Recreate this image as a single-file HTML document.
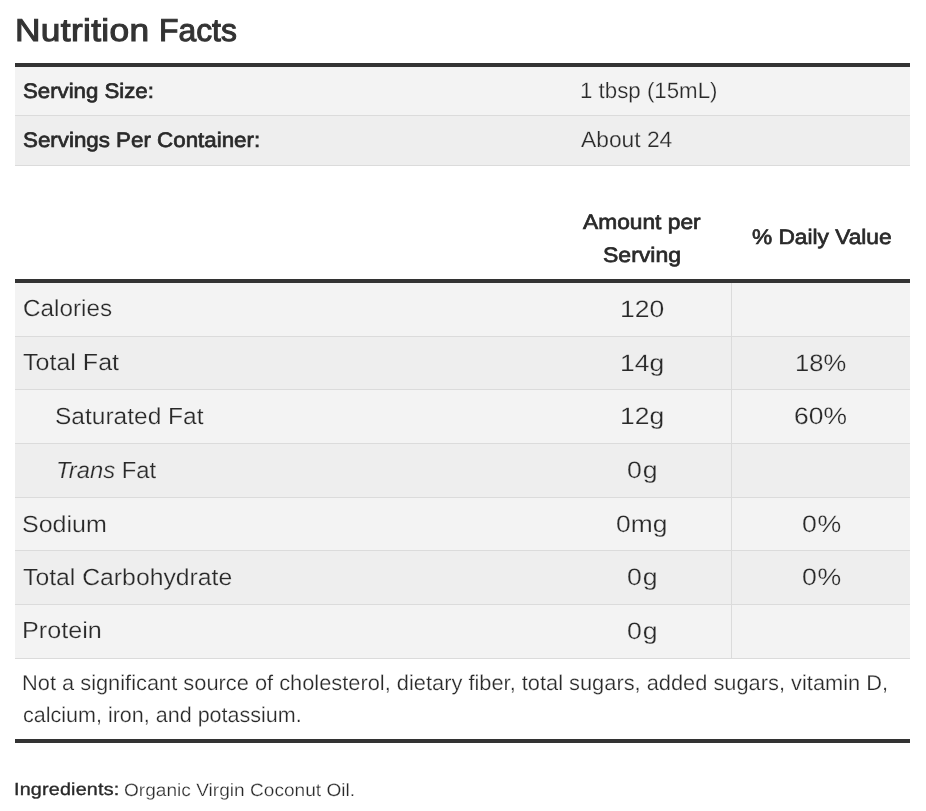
<!DOCTYPE html>
<html lang="en">
<head>
<meta charset="utf-8">
<title>Nutrition Facts</title>
<style>
html,body{margin:0;padding:0;background:#fff;}
body{width:926px;height:811px;overflow:hidden;position:relative;display:flow-root;font-family:"Liberation Sans",sans-serif;color:#292929;}
h2{margin:0;height:0;font-size:inherit;font-weight:normal;}
table{border-collapse:separate;border-spacing:0;table-layout:fixed;width:895px;margin-left:15px;}
th,td{padding:0;font-weight:normal;text-align:left;box-sizing:content-box;}
#serving{margin-top:63px;border-top:4px solid #333;}
#facts{margin-top:34px;}
#facts thead th{height:79px;border-bottom:4px solid #333;}
tbody th,tbody td{border-bottom:1px solid #dbdbdb;background:#f3f3f3;}
tbody tr.d th,tbody tr.d td{background:#eeeeee;}
#facts tbody td.dv{border-left:1px solid #dbdbdb;}
#facts tfoot td{height:80px;background:#fff;border-bottom:4px solid #333;}
p{margin:0;height:0;}
.t{position:absolute;white-space:nowrap;line-height:30px;transform-origin:0 0;text-rendering:geometricPrecision;font-weight:normal;font-style:normal;}
.t i{font-style:italic;}
</style>
</head>
<body>
<h2><span class="t" style="left:15px;top:15px;font-size:31.5px;transform:scaleX(1.12);letter-spacing:0.3px;-webkit-text-stroke:1.04px #333;color:#333;">Nutrition</span> <span class="t" style="left:158.6px;top:15px;font-size:31.5px;transform:scaleX(1.0109);-webkit-text-stroke:1.04px #333;color:#333;">Facts</span></h2>
<table id="serving">
<colgroup><col style="width:549px"><col style="width:346px"></colgroup>
<tbody>
<tr><th scope="row" style="height:48px"><span class="t" style="left:22.7px;top:77px;font-size:21px;transform:scaleX(1.0579);-webkit-text-stroke:0.69px #292929;">Serving Size:</span></th><td><span class="t" style="left:579.7px;top:76px;font-size:22.2px;transform:scaleX(1.0045);-webkit-text-stroke:0.25px #f3f3f3;">1 tbsp (15mL)</span></td></tr>
<tr class="d"><th scope="row" style="height:49px"><span class="t" style="left:22.7px;top:126px;font-size:21px;transform:scaleX(1.0637);-webkit-text-stroke:0.69px #292929;">Servings Per Container:</span></th><td><span class="t" style="left:580.9px;top:125px;font-size:22.2px;transform:scaleX(1.0273);-webkit-text-stroke:0.25px #eeeeee;">About 24</span></td></tr>
</tbody>
</table>
<table id="facts">
<colgroup><col style="width:537px"><col style="width:179px"><col style="width:179px"></colgroup>
<thead><tr><th></th><th scope="col"><span class="t" style="left:582.9px;top:208px;font-size:21px;transform:scaleX(1.0835);-webkit-text-stroke:0.69px #292929;">Amount per</span> <span class="t" style="left:602.8px;top:241px;font-size:21px;transform:scaleX(1.0957);-webkit-text-stroke:0.69px #292929;">Serving</span></th><th scope="col"><span class="t" style="left:751.7px;top:223px;font-size:21px;transform:scaleX(1.0806);-webkit-text-stroke:0.69px #292929;">% Daily Value</span></th></tr></thead>
<tbody>
<tr><th scope="row" style="height:53px"><span class="t" style="left:22.9px;top:293px;font-size:23.3px;transform:scaleX(1.0422);-webkit-text-stroke:0.25px #f3f3f3;">Calories</span></th><td><span class="t" style="left:620.1px;top:295px;font-size:23.8px;transform:scaleX(1.1138);-webkit-text-stroke:0.25px #f3f3f3;">120</span></td><td class="dv"></td></tr>
<tr class="d"><th scope="row" style="height:52px"><span class="t" style="left:22.6px;top:347px;font-size:23.3px;transform:scaleX(1.075);-webkit-text-stroke:0.25px #eeeeee;">Total Fat</span></th><td><span class="t" style="left:620px;top:349px;font-size:23.8px;transform:scaleX(1.1111);-webkit-text-stroke:0.25px #eeeeee;">14g</span></td><td class="dv"><span class="t" style="left:795.3px;top:349px;font-size:23.8px;transform:scaleX(1.0756);-webkit-text-stroke:0.25px #eeeeee;">18%</span></td></tr>
<tr><th scope="row" style="height:53px"><span class="t" style="left:54.5px;top:401px;font-size:23.3px;transform:scaleX(1.0518);-webkit-text-stroke:0.25px #f3f3f3;">Saturated Fat</span></th><td><span class="t" style="left:620px;top:402px;font-size:23.8px;transform:scaleX(1.1111);-webkit-text-stroke:0.25px #f3f3f3;">12g</span></td><td class="dv"><span class="t" style="left:793.7px;top:402px;font-size:23.8px;transform:scaleX(1.11);-webkit-text-stroke:0.25px #f3f3f3;">60%</span></td></tr>
<tr class="d"><th scope="row" style="height:53px"><span class="t" style="left:56.1px;top:455px;font-size:23.3px;transform:scaleX(1.0232);-webkit-text-stroke:0.25px #eeeeee;"><i>Trans</i> Fat</span></th><td><span class="t" style="left:626.8px;top:456px;font-size:23.8px;transform:scaleX(1.12);letter-spacing:0.82px;-webkit-text-stroke:0.25px #eeeeee;">0g</span></td><td class="dv"></td></tr>
<tr><th scope="row" style="height:52px"><span class="t" style="left:21.8px;top:509px;font-size:23.3px;transform:scaleX(1.0747);-webkit-text-stroke:0.25px #f3f3f3;">Sodium</span></th><td><span class="t" style="left:616.2px;top:510px;font-size:23.8px;transform:scaleX(1.1093);-webkit-text-stroke:0.25px #f3f3f3;">0mg</span></td><td class="dv"><span class="t" style="left:801.7px;top:510px;font-size:23.8px;transform:scaleX(1.12);letter-spacing:0.68px;-webkit-text-stroke:0.25px #f3f3f3;">0%</span></td></tr>
<tr class="d"><th scope="row" style="height:53px"><span class="t" style="left:22.6px;top:562px;font-size:23.3px;transform:scaleX(1.0631);-webkit-text-stroke:0.25px #eeeeee;">Total Carbohydrate</span></th><td><span class="t" style="left:626.8px;top:563px;font-size:23.8px;transform:scaleX(1.12);letter-spacing:0.82px;-webkit-text-stroke:0.25px #eeeeee;">0g</span></td><td class="dv"><span class="t" style="left:801.7px;top:563px;font-size:23.8px;transform:scaleX(1.12);letter-spacing:0.68px;-webkit-text-stroke:0.25px #eeeeee;">0%</span></td></tr>
<tr><th scope="row" style="height:53px"><span class="t" style="left:22.1px;top:615px;font-size:23.3px;transform:scaleX(1.0814);-webkit-text-stroke:0.25px #f3f3f3;">Protein</span></th><td><span class="t" style="left:626.8px;top:617px;font-size:23.8px;transform:scaleX(1.12);letter-spacing:0.82px;-webkit-text-stroke:0.25px #f3f3f3;">0g</span></td><td class="dv"></td></tr>
</tbody>
<tfoot><tr><td colspan="3"><span class="t" style="left:21.8px;top:668px;font-size:21.3px;transform:scaleX(1.0247);-webkit-text-stroke:0.25px #fff;">Not a significant source of cholesterol, dietary fiber, total sugars, added sugars, vitamin D,</span> <span class="t" style="left:22.8px;top:700px;font-size:21.3px;transform:scaleX(1.0106);-webkit-text-stroke:0.25px #fff;">calcium, iron, and potassium.</span></td></tr></tfoot>
</table>
<p><strong class="t" style="left:14.1px;top:774px;font-size:17.4px;transform:scaleX(1.1356);letter-spacing:0.16px;-webkit-text-stroke:0.35px #292929;">Ingredients:</strong> <span class="t" style="left:123.6px;top:775px;font-size:17.8px;transform:scaleX(1.0745);-webkit-text-stroke:0.25px #fff;">Organic Virgin Coconut Oil.</span></p>
</body>
</html>
